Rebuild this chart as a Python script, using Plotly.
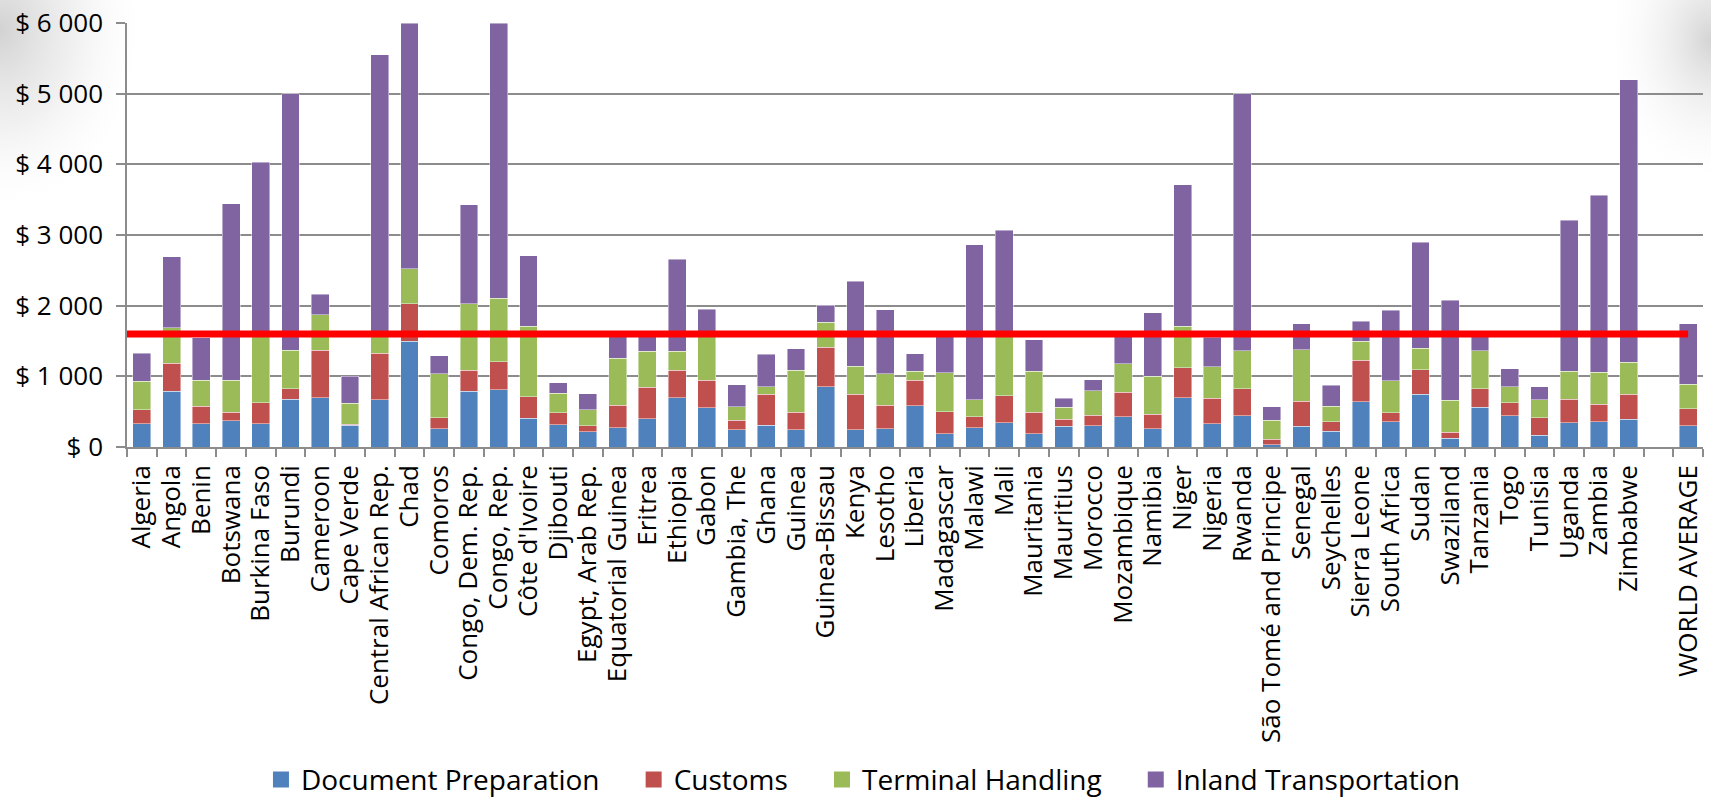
import base64
import plotly.graph_objects as go

countries = ["Algeria", "Angola", "Benin", "Botswana", "Burkina Faso", "Burundi", "Cameroon",
             "Cape Verde", "Central African Rep.", "Chad", "Comoros", "Congo, Dem. Rep.",
             "Congo, Rep.", "Côte d'Ivoire", "Djibouti", "Egypt, Arab Rep.", "Equatorial Guinea",
             "Eritrea", "Ethiopia", "Gabon", "Gambia, The", "Ghana", "Guinea", "Guinea-Bissau",
             "Kenya", "Lesotho", "Liberia", "Madagascar", "Malawi", "Mali", "Mauritania",
             "Mauritius", "Morocco", "Mozambique", "Namibia", "Niger", "Nigeria", "Rwanda",
             "São Tomé and Principe", "Senegal", "Seychelles", "Sierra Leone", "South Africa",
             "Sudan", "Swaziland", "Tanzania", "Togo", "Tunisia", "Uganda", "Zambia", "Zimbabwe",
             " ", "WORLD AVERAGE"]

document_preparation = [330, 788, 330, 368, 330, 679, 698, 307, 670, 1500, 259, 788, 811, 410, 316,
                        217, 269, 401, 698, 557, 245, 307, 245, 854, 245, 255, 585, 189, 274, 344,
                        189, 297, 302, 429, 255, 698, 330, 443, 33, 297, 226, 637, 358, 750, 127,
                        566, 439, 165, 344, 358, 396, None, 302]
customs = [194, 396, 245, 127, 293, 146, 670, 18, 660, 524, 156, 297, 392, 298, 170, 85, 325, 448,
           387, 391, 137, 443, 250, 561, 505, 339, 358, 311, 151, 378, 302, 99, 146, 345, 212, 425,
           359, 378, 80, 354, 128, 594, 128, 340, 85, 255, 184, 250, 331, 250, 354, None, 236]
terminal_handling = [405, 505, 373, 448, 967, 543, 500, 293, 260, 500, 623, 943, 901, 1000, 273,
                     222, 661, 505, 269, 652, 189, 104, 590, 349, 396, 444, 128, 552, 245, 878,
                     584, 170, 351, 401, 533, 585, 448, 542, 264, 726, 221, 264, 453, 306, 448,
                     542, 231, 255, 396, 453, 448, None, 349]
inland_transportation = [396, 1000, 599, 2500, 2438, 3632, 297, 382, 3962, 3476, 250, 1401, 3896,
                         1000, 151, 231, 345, 226, 1306, 348, 311, 457, 302, 241, 1198, 901, 250,
                         548, 2193, 1466, 444, 127, 151, 385, 901, 2004, 413, 3637, 194, 364, 298,
                         283, 995, 1500, 1420, 217, 250, 184, 2141, 2500, 4000, None, 854]

reference_line_value = 1600
y_range = [0, 6000]
y_tick_values = [0, 1000, 2000, 3000, 4000, 5000, 6000]
y_tick_labels = ["$ 0", "$ 1 000", "$ 2 000", "$ 3 000", "$ 4 000", "$ 5 000", "$ 6 000"]

series_names = ["Document Preparation", "Customs", "Terminal Handling", "Inland Transportation"]
series_values = [document_preparation, customs, terminal_handling, inland_transportation]
series_colors = ["#4F81BD", "#C0504D", "#9BBB59", "#8064A2"]

FONT = "Open Sans, DejaVu Sans, sans-serif"
W, H = 1711, 805
ML, MR, MT, MB = 127, 8, 23, 358
PW, PH = W - ML - MR, H - MT - MB

fig = go.Figure()
for name, vals, color in zip(series_names, series_values, series_colors):
    fig.add_trace(go.Bar(
        x=countries, y=vals, name=name, showlegend=False,
        marker=dict(color=color, line=dict(color="rgba(255,255,255,0.55)", width=0.8)),
    ))
# legend entries (square swatches)
for name, color in zip(series_names, series_colors):
    fig.add_trace(go.Scatter(
        x=[None], y=[None], mode="markers", name=name + "\u00a0" * 4,
        marker=dict(symbol="square", size=16, color=color),
    ))

fig.add_shape(type="line", xref="x", yref="y",
              x0=-0.5, x1=len(countries) - 1,
              y0=reference_line_value, y1=reference_line_value,
              line=dict(color="#FF0000", width=7), layer="above")

# slide-like soft shading in the corners
svg = f'''<svg xmlns="http://www.w3.org/2000/svg" width="{W}" height="{H}" viewBox="0 0 {W} {H}">
<defs>
<radialGradient id="a" cx="0" cy="30" r="1" gradientUnits="userSpaceOnUse"
 gradientTransform="translate(0 30) scale(150 190) translate(0 -30)">
<stop offset="0" stop-color="#cdcdcd" stop-opacity="0.9"/>
<stop offset="0.5" stop-color="#e2e2e2" stop-opacity="0.5"/>
<stop offset="1" stop-color="#ffffff" stop-opacity="0"/>
</radialGradient>
<radialGradient id="b" cx="{W}" cy="40" r="1" gradientUnits="userSpaceOnUse"
 gradientTransform="translate({W} 40) scale(110 150) translate(-{W} -40)">
<stop offset="0" stop-color="#cccccc" stop-opacity="0.85"/>
<stop offset="1" stop-color="#ffffff" stop-opacity="0"/>
</radialGradient>
</defs>
<rect width="{W}" height="{H}" fill="white"/>
<rect width="{W}" height="{H}" fill="url(#a)"/>
<rect width="{W}" height="{H}" fill="url(#b)"/>
</svg>'''
uri = "data:image/svg+xml;base64," + base64.b64encode(svg.encode()).decode()
fig.add_layout_image(source=uri, xref="paper", yref="paper",
                     x=-ML / PW, y=1 + MT / PH, sizex=W / PW, sizey=H / PH,
                     xanchor="left", yanchor="top", sizing="stretch", layer="below")

fig.update_layout(
    width=W, height=H,
    barmode="stack", bargap=0.4,
    paper_bgcolor="white", plot_bgcolor="rgba(0,0,0,0)",
    margin=dict(l=ML, r=MR, t=MT, b=MB, autoexpand=False),
    font=dict(family=FONT, color="black"),
    showlegend=True,
    legend=dict(orientation="h", x=0.085, xanchor="left", y=-0.785, yanchor="middle",
                font=dict(size=28, family=FONT), traceorder="normal",
                bgcolor="rgba(0,0,0,0)", itemsizing="trace"),
    xaxis=dict(type="category", range=[-0.5, len(countries) - 0.5], automargin=False,
               tickmode="array", tickvals=countries, ticktext=countries,
               tickangle=-90, tickfont=dict(size=26, family=FONT),
               showline=True, linecolor="#8C8C8C", linewidth=1.5,
               ticks="outside", tickson="boundaries", ticklen=8, tickcolor="#8C8C8C",
               tickwidth=1.5, showgrid=False, ticklabelstandoff=6),
    yaxis=dict(range=y_range, tickmode="array", tickvals=y_tick_values, ticktext=y_tick_labels,
               automargin=False, tickfont=dict(size=26, family=FONT),
               showline=True, linecolor="#8C8C8C", linewidth=1.5,
               ticks="outside", ticklen=9, tickcolor="#8C8C8C", tickwidth=1.5,
               showgrid=True, gridcolor="#8C8C8C", gridwidth=1.5, zeroline=False,
               ticklabelstandoff=8),
)

fig.write_html("out.html")
